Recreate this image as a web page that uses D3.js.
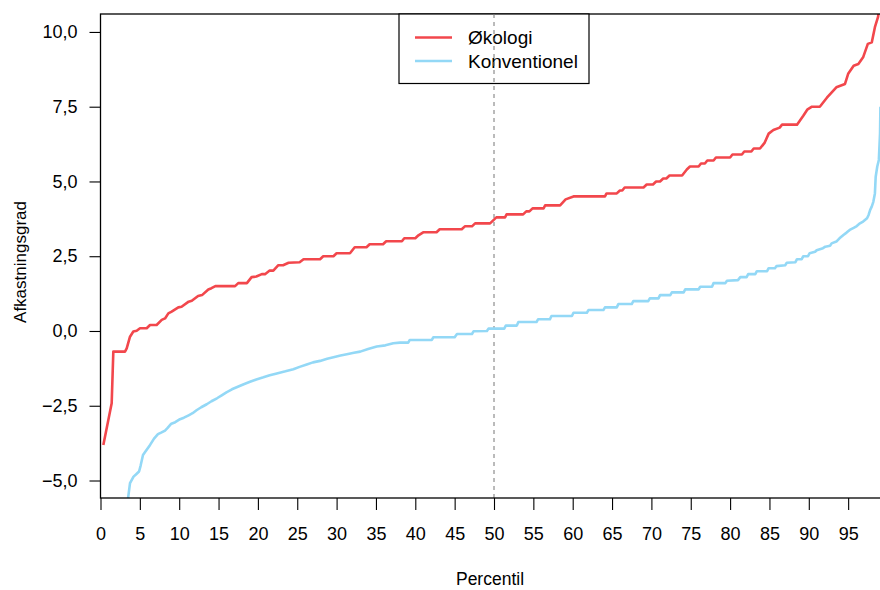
<!DOCTYPE html>
<html>
<head>
<meta charset="utf-8">
<script src="https://cdn.jsdelivr.net/npm/d3@7/dist/d3.min.js"></script>
<style>
  html, body { margin: 0; padding: 0; background: #fff; }
  svg { display: block; }
  text { font-family: "Liberation Sans", Arial, Helvetica, sans-serif; fill: #000; }
</style>
</head>
<body>
<svg id="chart" width="880" height="590"></svg>
<script>
// Percentile curves of return rate (afkastningsgrad), organic vs conventional
const seriesNames = ["Økologi", "Konventionel"];
const seriesColors = ["#F2474C", "#93D8F6"];

const okoPct = [0.36, 1.42, 1.63, 3.11, 3.33, 3.75, 4.17, 4.6, 5.02, 5.87, 6.29, 7.13, 7.78, 8.2, 8.62, 9.04, 9.89, 10.3, 11.2, 11.6, 12.4, 12.9, 13.7, 14.1, 14.6, 17.1, 17.5, 18.6, 19.2, 19.8, 20.5, 20.9, 21.5, 21.96, 22.6, 23.2, 23.9, 25.3, 25.8, 27.9, 28.3, 29.6, 30.0, 31.7, 32.0, 32.3, 33.8, 34.2, 35.9, 36.3, 38.3, 38.6, 40.0, 40.4, 41.0, 42.7, 43.1, 45.9, 46.3, 47.2, 47.6, 49.5, 49.9, 50.3, 51.4, 51.6, 53.7, 54.1, 54.5, 54.9, 56.3, 56.5, 58.4, 59.1, 60.1, 64.1, 64.3, 65.6, 66.0, 66.3, 66.6, 69.0, 69.4, 70.2, 70.6, 71.1, 71.5, 71.9, 72.3, 73.9, 74.5, 74.9, 76.0, 76.3, 76.8, 77.1, 77.9, 78.2, 80.0, 80.3, 81.5, 81.8, 82.7, 83.0, 83.8, 84.4, 84.9, 85.5, 86.3, 86.6, 88.5, 89.3, 89.8, 90.4, 91.4, 92.3, 93.5, 94.6, 95.0, 95.7, 96.3, 96.9, 97.5, 98.0, 98.4, 98.8, 99.2];
const okoVal = [-3.81, -2.42, -0.69, -0.69, -0.58, -0.19, -0.02, 0.01, 0.09, 0.09, 0.2, 0.2, 0.37, 0.42, 0.59, 0.65, 0.79, 0.81, 0.98, 1.01, 1.17, 1.2, 1.39, 1.43, 1.5, 1.5, 1.6, 1.6, 1.8, 1.82, 1.9, 1.9, 2.02, 2.02, 2.2, 2.2, 2.28, 2.3, 2.4, 2.4, 2.5, 2.5, 2.6, 2.6, 2.7, 2.8, 2.8, 2.9, 2.9, 3.0, 3.0, 3.1, 3.1, 3.2, 3.3, 3.3, 3.4, 3.4, 3.5, 3.5, 3.6, 3.6, 3.7, 3.8, 3.8, 3.9, 3.9, 4.0, 4.0, 4.1, 4.1, 4.2, 4.2, 4.4, 4.5, 4.5, 4.6, 4.6, 4.7, 4.7, 4.8, 4.8, 4.9, 4.9, 5.0, 5.0, 5.1, 5.1, 5.2, 5.2, 5.4, 5.5, 5.5, 5.6, 5.6, 5.7, 5.7, 5.8, 5.8, 5.9, 5.9, 6.0, 6.0, 6.1, 6.1, 6.3, 6.6, 6.72, 6.8, 6.9, 6.9, 7.2, 7.4, 7.5, 7.5, 7.8, 8.15, 8.26, 8.6, 8.87, 8.93, 9.15, 9.6, 9.65, 10.16, 10.5, 11.3];

const konvPct = [3.4, 3.75, 4.2, 4.5, 4.9, 5.1, 5.4, 5.8, 6.3, 6.8, 7.3, 7.7, 8.2, 8.5, 9.0, 9.5, 10.1, 10.6, 11.2, 11.7, 12.2, 12.8, 13.5, 14.1, 14.8, 15.4, 16.0, 16.7, 17.3, 18.2, 19.0, 19.8, 20.7, 21.5, 22.4, 23.5, 24.5, 25.3, 26.2, 27.0, 27.9, 28.8, 29.6, 30.5, 31.3, 32.2, 33.0, 34.0, 35.1, 36.2, 37.2, 38.05, 39.1, 39.3, 42.1, 42.3, 45.0, 45.3, 47.2, 47.4, 49.1, 49.3, 51.3, 51.5, 52.9, 53.1, 55.4, 55.6, 57.1, 57.3, 59.9, 60.1, 61.8, 62.0, 63.9, 64.1, 65.6, 65.8, 67.5, 67.7, 69.6, 69.8, 70.9, 71.1, 72.4, 72.6, 74.1, 74.3, 76.0, 76.2, 77.7, 77.9, 79.4, 79.6, 81.0, 81.3, 82.1, 82.3, 83.2, 83.4, 84.7, 84.9, 85.7, 85.9, 87.0, 87.2, 88.3, 88.5, 89.1, 89.3, 89.9, 90.1, 90.8, 91.0, 91.8, 92.1, 92.7, 92.9, 93.5, 93.9, 94.4, 94.8, 95.2, 95.7, 96.1, 96.5, 96.9, 97.4, 97.6, 97.8, 98.0, 98.2, 98.4, 98.5, 98.7, 98.9, 99.05, 99.1];
const konvVal = [-5.8, -5.09, -4.87, -4.8, -4.7, -4.5, -4.15, -4.0, -3.81, -3.6, -3.45, -3.4, -3.33, -3.25, -3.1, -3.05, -2.95, -2.9, -2.82, -2.75, -2.65, -2.55, -2.45, -2.35, -2.25, -2.15, -2.05, -1.95, -1.88, -1.78, -1.7, -1.62, -1.55, -1.48, -1.42, -1.35, -1.28, -1.2, -1.12, -1.05, -1.0, -0.93, -0.88, -0.82, -0.78, -0.73, -0.69, -0.6, -0.52, -0.48, -0.41, -0.39, -0.39, -0.3, -0.3, -0.21, -0.21, -0.1, -0.1, -0.01, 0.0, 0.08, 0.08, 0.18, 0.18, 0.3, 0.3, 0.39, 0.39, 0.5, 0.5, 0.61, 0.61, 0.7, 0.7, 0.79, 0.79, 0.9, 0.9, 1.0, 1.0, 1.09, 1.09, 1.2, 1.2, 1.29, 1.29, 1.39, 1.39, 1.48, 1.48, 1.6, 1.6, 1.68, 1.7, 1.8, 1.8, 1.9, 1.9, 2.0, 2.0, 2.1, 2.1, 2.17, 2.2, 2.28, 2.3, 2.4, 2.4, 2.5, 2.5, 2.6, 2.65, 2.7, 2.77, 2.82, 2.85, 2.93, 2.99, 3.1, 3.21, 3.29, 3.38, 3.45, 3.51, 3.6, 3.66, 3.77, 3.88, 4.05, 4.16, 4.32, 4.6, 5.16, 5.5, 5.72, 6.6, 7.5];

const xTicks = d3.range(0, 100, 5);
const yTicks = [-5, -2.5, 0, 2.5, 5, 7.5, 10];
const midPercentile = 50;
const xTitle = "Percentil";
const yTitle = "Afkastningsgrad";

const svg = d3.select("#chart");
const plot = { left: 100.5, top: 14, bottom: 498, right: 887.5 };

const x = d3.scaleLinear().domain([0, 100]).range([plot.left, plot.right]);
const y = d3.scaleLinear().domain([-5.585, 10.6]).range([plot.bottom, plot.top]);

svg.append("defs").append("clipPath").attr("id", "plotclip")
  .append("rect")
  .attr("x", plot.left).attr("y", plot.top)
  .attr("width", plot.right - plot.left).attr("height", plot.bottom - plot.top);

const fmt = v => {
  const s = d3.format(".1f")(Math.abs(v)).replace(".", ",");
  return (v < 0 ? "\u2212" : "") + s;
};

// Reference line at the median
svg.append("line")
  .attr("x1", x(midPercentile)).attr("x2", x(midPercentile))
  .attr("y1", plot.top).attr("y2", plot.bottom)
  .attr("stroke", "#777").attr("stroke-width", 1)
  .attr("stroke-dasharray", "4,4");

// Curves
const line = d3.line().x(d => x(d[0])).y(d => y(d[1]));
const series = [d3.zip(okoPct, okoVal), d3.zip(konvPct, konvVal)];
svg.append("g").attr("clip-path", "url(#plotclip)")
  .selectAll("path").data(series).join("path")
  .attr("d", line)
  .attr("fill", "none")
  .attr("stroke", (d, i) => seriesColors[i])
  .attr("stroke-width", 2.6)
  .attr("stroke-linejoin", "round");

// Plot frame
svg.append("rect")
  .attr("x", plot.left).attr("y", plot.top)
  .attr("width", plot.right - plot.left).attr("height", plot.bottom - plot.top)
  .attr("fill", "none").attr("stroke", "#000").attr("stroke-width", 1.3);

// Axes
const tickFont = 18;
const xAxis = d3.axisBottom(x).tickValues(xTicks).tickSize(12).tickPadding(17).tickFormat(d3.format("d"));
const gx = svg.append("g").attr("transform", `translate(0,${plot.bottom})`).call(xAxis);
gx.select(".domain").remove();
gx.selectAll(".tick line").attr("stroke", "#000").attr("stroke-width", 1.1);
gx.selectAll(".tick text").attr("font-size", tickFont).attr("font-family", "Liberation Sans, Arial, sans-serif");

const yAxis = d3.axisLeft(y).tickValues(yTicks).tickSize(11).tickPadding(12).tickFormat(fmt);
const gy = svg.append("g").attr("transform", `translate(${plot.left},0)`).call(yAxis);
gy.select(".domain").remove();
gy.selectAll(".tick line").attr("stroke", "#000").attr("stroke-width", 1.1);
gy.selectAll(".tick text").attr("font-size", tickFont).attr("font-family", "Liberation Sans, Arial, sans-serif");

// Axis titles
svg.append("text").attr("x", 490).attr("y", 585)
  .attr("text-anchor", "middle").attr("font-size", 17.5).text(xTitle);
svg.append("text")
  .attr("transform", "translate(26,262) rotate(-90)")
  .attr("text-anchor", "middle").attr("font-size", 17).text(yTitle);

// Legend
const lg = svg.append("g");
lg.append("rect")
  .attr("x", 399).attr("y", plot.top)
  .attr("width", 190).attr("height", 69.5)
  .attr("fill", "#fff").attr("stroke", "#000").attr("stroke-width", 1.2);
seriesNames.forEach((name, i) => {
  const ly = 37.5 + i * 23.5;
  lg.append("line").attr("x1", 415).attr("x2", 452).attr("y1", ly).attr("y2", ly)
    .attr("stroke", seriesColors[i]).attr("stroke-width", 2.6);
  lg.append("text").attr("x", 468).attr("y", ly + 6.5)
    .attr("font-size", 19).text(name);
});
// Dashed line passes over the legend box
svg.append("line")
  .attr("x1", x(midPercentile)).attr("x2", x(midPercentile))
  .attr("y1", plot.top).attr("y2", plot.top + 69.5)
  .attr("stroke", "#777").attr("stroke-width", 1)
  .attr("stroke-dasharray", "4,4");
</script>
</body>
</html>
